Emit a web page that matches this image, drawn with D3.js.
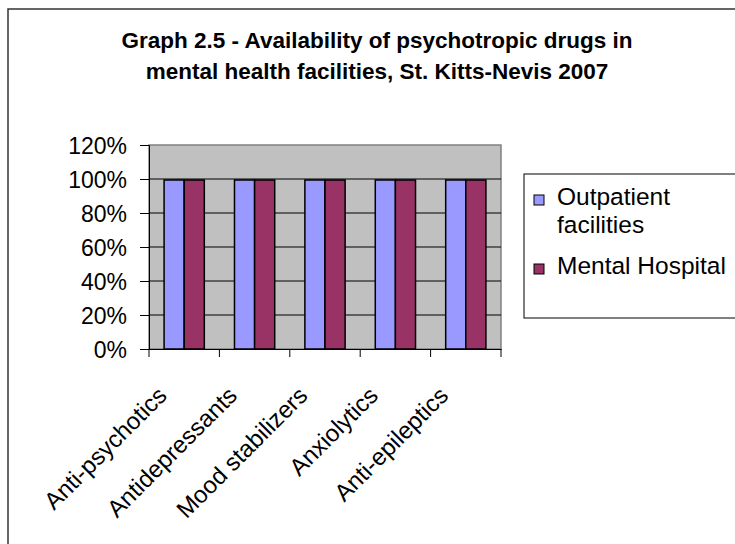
<!DOCTYPE html>
<html>
<head>
<meta charset="utf-8">
<script src="https://cdn.jsdelivr.net/npm/d3@7"></script>
<style>
  body { margin: 0; background: #fff; }
  text { font-family: "Liberation Sans", Arial, sans-serif; fill: #000; }
</style>
</head>
<body>
<svg id="visualization" width="735" height="544"></svg>
<script>
const categories = ["Anti-psychotics", "Antidepressants", "Mood stabilizers", "Anxiolytics", "Anti-epileptics"];
const outpatient = [1, 1, 1, 1, 1];
const mentalHospital = [1, 1, 1, 1, 1];
const seriesNames = ["Outpatient facilities", "Mental Hospital"];
const yTicks = [0, 0.2, 0.4, 0.6, 0.8, 1, 1.2];

const colours = ["#9999FF", "#993366"];

const svg = d3.select("#visualization");

// outer chart border
svg.append("rect")
    .attr("x", 8).attr("y", 9)
    .attr("width", 740).attr("height", 560)
    .attr("fill", "#fff")
    .attr("stroke", "#333").attr("stroke-width", 1.5);

// title
const title = svg.append("text")
    .attr("text-anchor", "middle")
    .attr("font-size", 22.5)
    .attr("font-weight", "bold");
title.append("tspan").attr("x", 377).attr("y", 48).text("Graph 2.5 - Availability of psychotropic drugs in");
title.append("tspan").attr("x", 377).attr("y", 79).text("mental health facilities, St. Kitts-Nevis 2007");

const plot = { left: 149, top: 145, width: 352, height: 204 };

const x = d3.scaleBand()
    .domain(categories)
    .range([plot.left, plot.left + plot.width]);
const y = d3.scaleLinear()
    .domain([0, 1.2])
    .range([plot.top + plot.height, plot.top]);

// plot area
svg.append("rect")
    .attr("x", plot.left).attr("y", plot.top)
    .attr("width", plot.width).attr("height", plot.height)
    .attr("fill", "#C0C0C0")
    .attr("stroke", "#808080").attr("stroke-width", 1.5);

// gridlines
svg.selectAll(".grid")
    .data(yTicks.filter(d => d > 0 && d < 1.2))
    .join("line")
    .attr("class", "grid")
    .attr("x1", plot.left).attr("x2", plot.left + plot.width)
    .attr("y1", d => y(d)).attr("y2", d => y(d))
    .attr("stroke", "#000").attr("stroke-width", 1);

// bars
const barWidth = x.bandwidth() / 3.5;
const data = categories.map((c, i) => [
    { cat: c, s: 0, v: outpatient[i] },
    { cat: c, s: 1, v: mentalHospital[i] }
]).flat();

svg.selectAll(".bar")
    .data(data)
    .join("rect")
    .attr("class", "bar")
    .attr("x", d => x(d.cat) + barWidth * 0.75 + d.s * barWidth)
    .attr("y", d => y(d.v) + 1)
    .attr("width", barWidth)
    .attr("height", d => y(0) - y(d.v) - 1)
    .attr("fill", d => colours[d.s])
    .attr("stroke", "#000").attr("stroke-width", 1.5);

// y axis
const yAxis = svg.append("g")
    .attr("transform", `translate(${plot.left},0)`)
    .call(d3.axisLeft(y).tickValues(yTicks).tickFormat(d3.format(".0%")).tickSize(9).tickPadding(13));
yAxis.selectAll("text")
    .attr("font-size", 23)
    .attr("font-family", "Liberation Sans, Arial, sans-serif")
    .attr("dy", "0.36em");
yAxis.selectAll("line, path").attr("stroke", "#000");

// x axis
const xAxis = svg.append("g")
    .attr("transform", `translate(0,${plot.top + plot.height})`)
    .call(d3.axisBottom(x).tickSize(0).tickFormat(""));
xAxis.select("path").attr("stroke", "#000");
xAxis.selectAll(".tick").remove();

svg.selectAll(".xtick")
    .data(categories.concat(["end"]))
    .join("line")
    .attr("class", "xtick")
    .attr("x1", (d, i) => plot.left + i * x.step())
    .attr("x2", (d, i) => plot.left + i * x.step())
    .attr("y1", plot.top + plot.height)
    .attr("y2", plot.top + plot.height + 8)
    .attr("stroke", "#000");

svg.selectAll(".xlabel")
    .data(categories)
    .join("text")
    .attr("class", "xlabel")
    .attr("font-size", 24)
    .attr("text-anchor", "end")
    .attr("transform", d => `translate(${x(d) + x.bandwidth() / 2 - 16},${plot.top + plot.height + 48})rotate(-45)`)
    .text(d => d);

// legend
svg.append("rect")
    .attr("x", 524).attr("y", 174)
    .attr("width", 230).attr("height", 144)
    .attr("fill", "#fff")
    .attr("stroke", "#000").attr("stroke-width", 1);

const legendLines = [["Outpatient", "facilities"], ["Mental Hospital"]];
const legendY = [205, 274];

svg.selectAll(".legend-swatch")
    .data(seriesNames)
    .join("rect")
    .attr("class", "legend-swatch")
    .attr("x", 534)
    .attr("y", (d, i) => legendY[i] - 10)
    .attr("width", 10).attr("height", 10)
    .attr("fill", (d, i) => colours[i])
    .attr("stroke", "#000").attr("stroke-width", 1);

const legendText = svg.selectAll(".legend-text")
    .data(seriesNames)
    .join("text")
    .attr("class", "legend-text")
    .attr("font-size", 24.5);
legendText.each(function(d, i) {
    const t = d3.select(this);
    legendLines[i].forEach((line, j) => {
        t.append("tspan")
            .attr("x", 557)
            .attr("y", legendY[i] + j * 28)
            .text(line);
    });
});
</script>
</body>
</html>
